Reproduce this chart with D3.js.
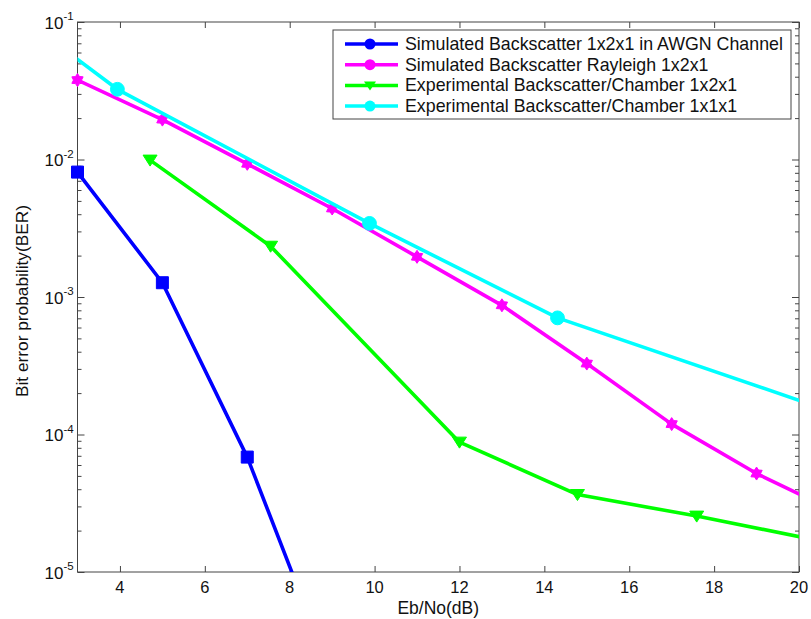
<!DOCTYPE html>
<html>
<head>
<meta charset="utf-8">
<script src="https://cdn.jsdelivr.net/npm/d3@7"></script>
<style>
  html, body { margin: 0; padding: 0; background: #fff; }
  svg { display: block; font-family: "Liberation Sans", Arial, sans-serif; }
</style>
</head>
<body>
<svg id="chart" width="811" height="619"></svg>
<script>
// BER curves versus Eb/No (dB). Points beyond the axis range only steer the clipped line ends.
const awgnX    = [3, 5, 7, 9];
const awgnBER  = [8.1e-3, 1.27e-3, 6.85e-5, 1.75e-6];

const rayX     = [3, 5, 7, 9, 11, 13, 15, 17, 19, 21];
const rayBER   = [3.78e-2, 1.95e-2, 9.3e-3, 4.4e-3, 1.96e-3, 8.7e-4, 3.28e-4, 1.19e-4, 5.2e-5, 2.63e-5];

const exp12X   = [4.71, 7.55, 12.0, 14.78, 17.59, 20.4];
const exp12BER = [9.9e-3, 2.34e-3, 8.8e-5, 3.66e-5, 2.55e-5, 1.71e-5];

const exp11X   = [2, 3.94, 9.88, 14.31, 21];
const exp11BER = [9.1e-2, 3.24e-2, 3.43e-3, 7.05e-4, 1.39e-4];

const seriesNames = [
  "Simulated Backscatter 1x2x1 in AWGN Channel",
  "Simulated Backscatter Rayleigh 1x2x1",
  "Experimental Backscatter/Chamber 1x2x1",
  "Experimental Backscatter/Chamber 1x1x1"
];
const xTicks = [4, 6, 8, 10, 12, 14, 16, 18, 20];
const yDecades = [1e-5, 1e-4, 1e-3, 1e-2, 1e-1];
const yExponents = ["-5", "-4", "-3", "-2", "-1"];
const xLabel = "Eb/No(dB)";
const yLabel = "Bit error probability(BER)";

const series = [
  { name: seriesNames[0], xs: awgnX,  ys: awgnBER,  color: "#0000ff", marker: "square" },
  { name: seriesNames[1], xs: rayX,   ys: rayBER,   color: "#ff00ff", marker: "hexagram" },
  { name: seriesNames[2], xs: exp12X, ys: exp12BER, color: "#00ff00", marker: "triangleDown" },
  { name: seriesNames[3], xs: exp11X, ys: exp11BER, color: "#00ffff", marker: "circle" }
];

const svg = d3.select("#chart");
const L = 77.5, R = 799, T = 22, B = 572;
const axisColor = "#444";
const textColor = "#111";

const x = d3.scaleLinear().domain([3, 20]).range([L, R]);
const y = d3.scaleLog().domain([1e-5, 1e-1]).range([B, T]);

svg.append("defs").append("clipPath").attr("id", "plotClip")
  .append("rect").attr("x", L).attr("y", T).attr("width", R - L).attr("height", B - T);

// Marker shapes
function hexagram(r) {
  const pts = [];
  for (let i = 0; i < 12; i++) {
    const rad = i % 2 === 0 ? r : r * 0.62;
    const a = -Math.PI / 2 + i * Math.PI / 6;
    pts.push([rad * Math.cos(a), rad * Math.sin(a)]);
  }
  return "M" + pts.map(p => p.join(",")).join("L") + "Z";
}
function markerPath(kind) {
  switch (kind) {
    case "square": return "M-6,-6H6V6H-6Z";
    case "hexagram": return hexagram(6.5);
    case "triangleDown": return "M-7,-5L7,-5L0,6Z";
    default: return d3.symbol(d3.symbolCircle, 150)();
  }
}

// Axes box with inward ticks (bottom/top for x, left/right for y)
const axes = svg.append("g");
axes.append("rect").attr("x", L).attr("y", T).attr("width", R - L).attr("height", B - T)
  .attr("fill", "none").attr("stroke", axisColor).attr("stroke-width", 1);

const xAxisB = d3.axisBottom(x).tickValues(xTicks).tickSize(-6).tickFormat("");
const gxb = axes.append("g").attr("transform", `translate(0,${B})`).call(xAxisB);
const xAxisT = d3.axisTop(x).tickValues(xTicks).tickSize(-6).tickFormat("");
const gxt = axes.append("g").attr("transform", `translate(0,${T})`).call(xAxisT);

const minorVals = [];
yDecades.slice(0, -1).forEach(d => { for (let k = 2; k <= 9; k++) minorVals.push(d * k); });

const yMajL = d3.axisLeft(y).tickValues(yDecades).tickSize(-7).tickFormat("");
const yMinL = d3.axisLeft(y).tickValues(minorVals).tickSize(-4).tickFormat("");
const yMajR = d3.axisRight(y).tickValues(yDecades).tickSize(-7).tickFormat("");
const yMinR = d3.axisRight(y).tickValues(minorVals).tickSize(-4).tickFormat("");
const gyl1 = axes.append("g").attr("transform", `translate(${L},0)`).call(yMajL);
const gyl2 = axes.append("g").attr("transform", `translate(${L},0)`).call(yMinL);
const gyr1 = axes.append("g").attr("transform", `translate(${R},0)`).call(yMajR);
const gyr2 = axes.append("g").attr("transform", `translate(${R},0)`).call(yMinR);

[gxb, gxt, gyl1, gyl2, gyr1, gyr2].forEach(g => {
  g.select(".domain").remove();
  g.selectAll(".tick line").attr("stroke", axisColor);
});

// x tick labels
const labels = svg.append("g").attr("fill", textColor);
labels.selectAll(null).data(xTicks).join("text")
  .attr("x", d => x(d)).attr("y", 593).attr("text-anchor", "middle")
  .attr("font-size", 16.5).text(d => d);

// Decade labels written as 10 with a superscript exponent
labels.selectAll(null).data(yDecades).join("text")
  .attr("x", L - 14).attr("y", d => y(d) + 6.5)
  .attr("text-anchor", "end").attr("font-size", 17).text("10");
labels.selectAll(null).data(yExponents).join("text")
  .attr("x", L - 14).attr("y", (d, i) => y(yDecades[i]) - 2)
  .attr("text-anchor", "start").attr("font-size", 11.5).text(d => d);

// Axis titles
labels.append("text").attr("x", (L + R) / 2).attr("y", 614).attr("text-anchor", "middle")
  .attr("font-size", 17.5).text(xLabel);
labels.append("text").attr("transform", `translate(28,${(T + B) / 2 + 4}) rotate(-90)`)
  .attr("text-anchor", "middle").attr("font-size", 17.3).text(yLabel);

// Series lines and markers
const line = d3.line().x(d => x(d[0])).y(d => y(d[1]));
const plot = svg.append("g");
series.forEach(s => {
  const pts = s.xs.map((v, i) => [v, s.ys[i]]);
  plot.append("path").datum(pts).attr("d", line).attr("clip-path", "url(#plotClip)")
    .attr("fill", "none").attr("stroke", s.color).attr("stroke-width", 3.6)
    .attr("stroke-linejoin", "round");
  const inside = pts.filter(p => p[0] >= 3 && p[0] <= 20 && p[1] >= 1e-5 && p[1] <= 1e-1);
  plot.selectAll(null).data(inside).join("path")
    .attr("transform", d => `translate(${x(d[0])},${y(d[1])})`)
    .attr("d", markerPath(s.marker)).attr("fill", s.color).attr("stroke", s.color).attr("stroke-width", 1);
});

// Legend
const lg = svg.append("g");
lg.append("rect").attr("x", 333).attr("y", 30).attr("width", 458).attr("height", 89)
  .attr("fill", "#fff").attr("stroke", axisColor).attr("stroke-width", 1);
const legendMarker = ["circle", "circle", "triangleDown", "circle"];
series.forEach((s, i) => {
  const yy = 44 + i * 20.7;
  lg.append("line").attr("x1", 345).attr("x2", 398).attr("y1", yy).attr("y2", yy)
    .attr("stroke", s.color).attr("stroke-width", 3.5);
  const mk = legendMarker[i] === "circle" ? d3.symbol(d3.symbolCircle, 95)() : "M-6,-4L6,-4L0,5Z";
  lg.append("path").attr("transform", `translate(370,${yy})`).attr("d", mk).attr("fill", s.color);
  lg.append("text").attr("x", 405).attr("y", yy + 6).attr("font-size", 17.8).attr("fill", textColor).text(s.name);
});
</script>
</body>
</html>
